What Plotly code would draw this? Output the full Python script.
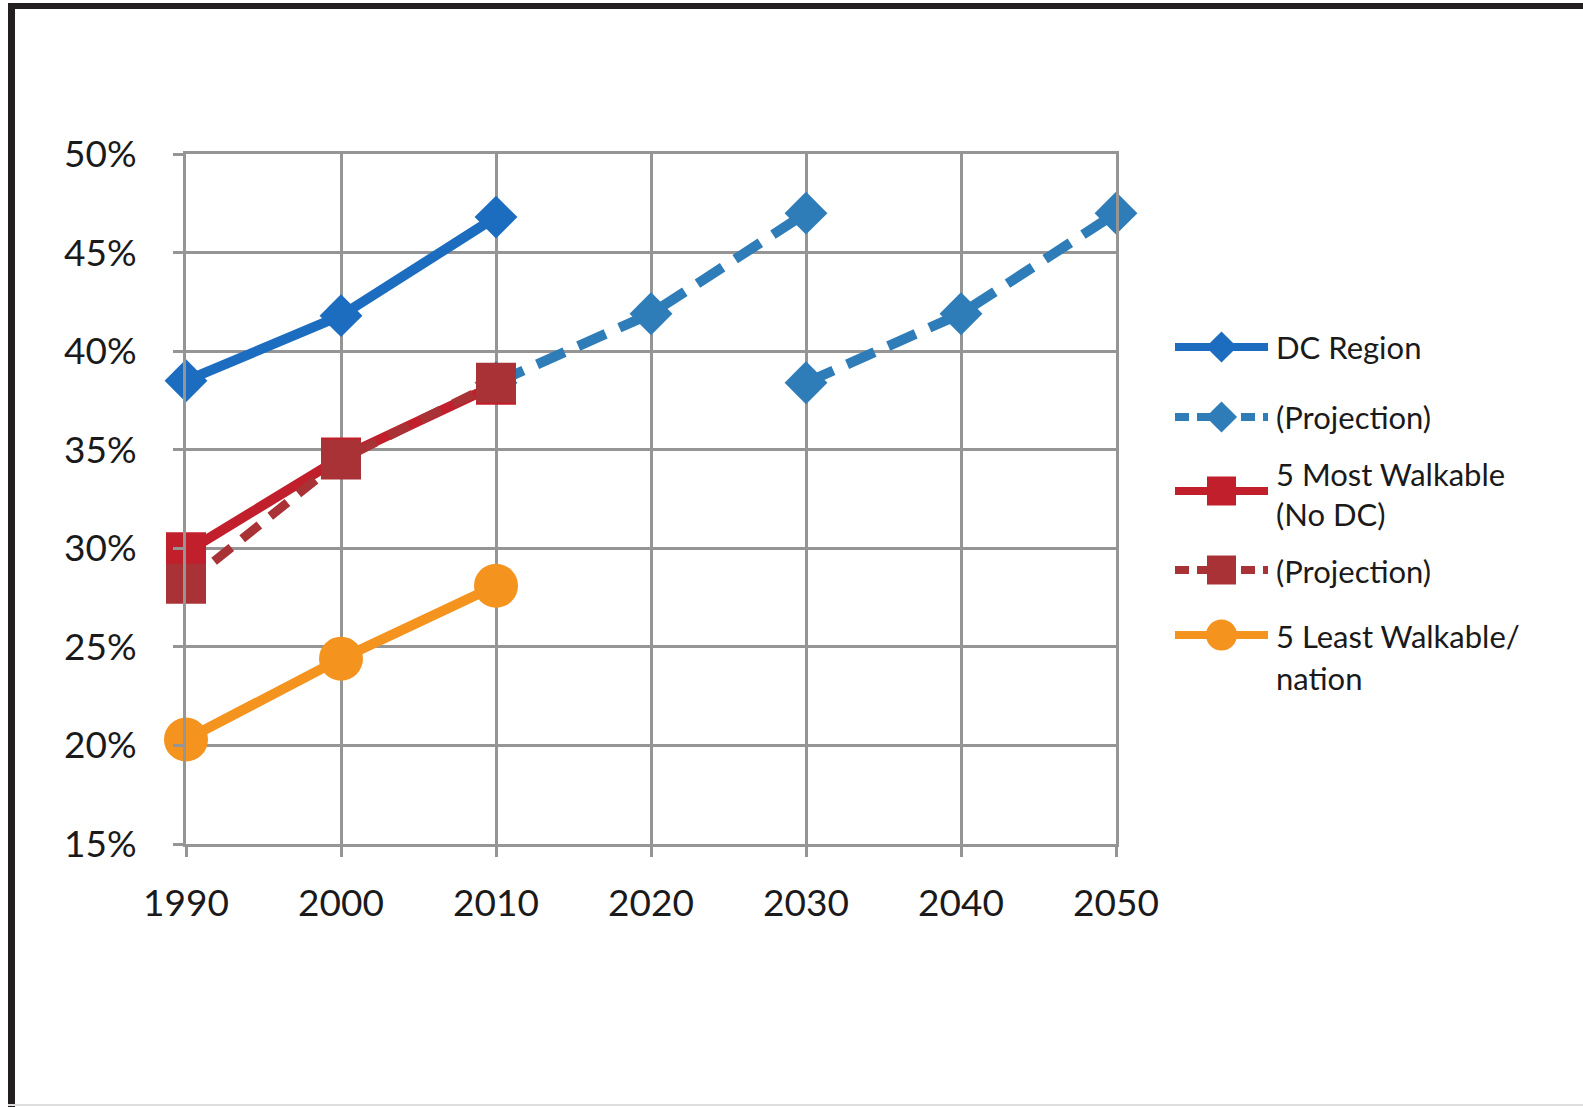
import plotly.graph_objects as go

# ---- data -------------------------------------------------------------
years_hist = [1990, 2000, 2010]

dc_region = [38.5, 41.8, 46.8]
# projection is drawn in two runs, broken between the two 2030 values
dc_proj_years = [2010, 2020, 2030, 2030, 2030, 2040, 2050]
dc_proj = [38.4, 41.9, 47.0, None, 38.4, 41.9, 47.0]

most_walkable = [29.8, 34.6, 38.3]
most_walkable_proj = [28.2, 34.5, 38.4]

least_walkable = [20.3, 24.4, 28.1]

x_ticks = [1990, 2000, 2010, 2020, 2030, 2040, 2050]
y_ticks = [15, 20, 25, 30, 35, 40, 45, 50]

key_lines = ["DC Region", "(Projection)", "5 Most Walkable<br>(No DC)",
             "(Projection)", "5 Least Walkable/", "nation"]

# ---- styling ------------------------------------------------------------
W, H = 1583, 1107
PL, PR, PT, PB = 186, 1116, 154, 844   # plot box in pixels
FONT = "Lato"
GRID = "#959595"

BLUE = "#1c6dbf"
BLUE_P = "#2f7db8"
RED = "#c01f2b"
RED_P = "#a83236"
ORANGE = "#f4931e"

styles = [
    dict(color=BLUE, dash="solid", width=10, symbol="diamond", size=33,
         key_width=8, key_dash="solid", key_size=24),
    dict(color=BLUE_P, dash="30px,15px", width=10, symbol="diamond", size=33,
         key_width=8, key_dash="14px,8px", key_size=24),
    dict(color=RED, dash="solid", width=10, symbol="square", size=40,
         key_width=8, key_dash="solid", key_size=29),
    dict(color=RED_P, dash="22px,14px", width=9, symbol="square", size=40,
         key_width=8, key_dash="14px,8px", key_size=29),
    dict(color=ORANGE, dash="solid", width=10, symbol="circle", size=44,
         key_width=8, key_dash="solid", key_size=31),
]

fig = go.Figure()

plot_series = [
    (years_hist, dc_region),
    (dc_proj_years, dc_proj),
    (years_hist, most_walkable),
    (years_hist, most_walkable_proj),
    (years_hist, least_walkable),
]

for (xs, ys), st in zip(plot_series, styles):
    fig.add_trace(go.Scatter(
        x=xs, y=ys, mode="lines+markers", showlegend=False,
        cliponaxis=False, connectgaps=False,
        line=dict(color=st["color"], width=st["width"], dash=st["dash"]),
        marker=dict(symbol=st["symbol"], size=st["size"], color=st["color"],
                    opacity=1, line=dict(width=0)),
        hoverinfo="skip",
    ))

# ---- key (drawn on its own small axis pair, y in pixels from the top) ----
key_rows = [347, 417, 491, 570, 635]
for row, st in zip(key_rows, styles):
    fig.add_trace(go.Scatter(
        x=[0, 1], y=[row, row], xaxis="x2", yaxis="y2",
        mode="lines", showlegend=False, cliponaxis=False,
        line=dict(color=st["color"], width=st["key_width"],
                  dash=st["key_dash"]),
        hoverinfo="skip",
    ))
    fig.add_trace(go.Scatter(
        x=[0.5], y=[row], xaxis="x2", yaxis="y2",
        mode="markers", showlegend=False, cliponaxis=False,
        marker=dict(symbol=st["symbol"], size=st["key_size"],
                    color=st["color"], opacity=1, line=dict(width=0)),
        hoverinfo="skip",
    ))

label_rows = [347, 417, 494, 571, 636, 678]
annotations = []
for name, row in zip(key_lines, label_rows):
    annotations.append(dict(
        text=name, x=1275 / W, xref="paper", y=row, yref="y2",
        xanchor="left", yanchor="middle", showarrow=False, align="left",
        borderpad=0,
        font=dict(family=FONT, size=31, color="#1a1a1a"),
    ))

# ---- outer frame ---------------------------------------------------------
shapes = [
    dict(type="line", xref="paper", yref="paper",
         x0=11.5 / W, x1=11.5 / W, y0=0, y1=1 - 3 / H,
         line=dict(color="#231f20", width=7)),
    dict(type="line", xref="paper", yref="paper",
         x0=8 / W, x1=1, y0=1 - 6 / H, y1=1 - 6 / H,
         line=dict(color="#231f20", width=6)),
    dict(type="line", xref="paper", yref="paper",
         x0=8 / W, x1=1, y0=2 / H, y1=2 / H,
         line=dict(color="#dedede", width=2)),
]

axis_font = dict(family=FONT, size=37, color="#1a1a1a")

fig.update_layout(
    template="none",
    width=W, height=H,
    margin=dict(l=0, r=0, t=0, b=0, pad=0, autoexpand=False),
    paper_bgcolor="white", plot_bgcolor="white",
    showlegend=False,
    xaxis=dict(
        domain=[PL / W, PR / W], range=[1990, 2050], automargin=False,
        tickmode="array", tickvals=x_ticks, ticktext=[str(v) for v in x_ticks],
        showgrid=True, gridcolor=GRID, gridwidth=3,
        showline=True, linecolor=GRID, linewidth=3, mirror=True,
        ticks="outside", ticklen=10, tickwidth=3, tickcolor=GRID,
        zeroline=False, tickfont=axis_font, ticklabelstandoff=15,
        anchor="y",
    ),
    yaxis=dict(
        domain=[(H - PB) / H, (H - PT) / H], range=[15, 50], automargin=False,
        tickmode="array", tickvals=y_ticks,
        ticktext=[f"{v}%" for v in y_ticks],
        showgrid=True, gridcolor=GRID, gridwidth=3,
        showline=True, linecolor=GRID, linewidth=3, mirror=True,
        ticks="outside", ticklen=10, tickwidth=3, tickcolor=GRID,
        zeroline=False, tickfont=axis_font, ticklabelstandoff=29,
        anchor="x",
    ),
    xaxis2=dict(domain=[1175 / W, 1268 / W], range=[0, 1], visible=False,
                anchor="y2", fixedrange=True, automargin=False),
    yaxis2=dict(domain=[0, 1], range=[H, 0], visible=False,
                anchor="x2", fixedrange=True, automargin=False),
    annotations=annotations,
    shapes=shapes,
)

fig.write_html("out.html")
